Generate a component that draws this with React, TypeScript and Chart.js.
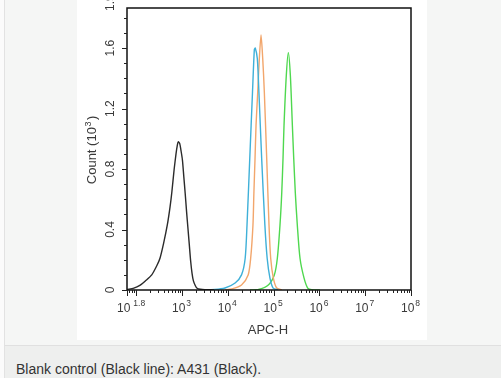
import React, { useEffect, useRef } from "react";
import { Chart, registerables } from "chart.js";

Chart.register(...registerables);

// ---- data (x in log10 APC-H units, y in Count x10^3) ----
const blackLogX = [1.8, 1.95, 2.08, 2.2, 2.34, 2.45, 2.52, 2.6, 2.68, 2.74, 2.78, 2.83, 2.87, 2.9, 2.92, 2.95, 2.98, 3.01, 3.04, 3.07, 3.1, 3.13, 3.16, 3.19, 3.22, 3.25, 3.29, 3.33, 3.4, 3.5, 3.7];
const blackCount = [0.004, 0.012, 0.03, 0.06, 0.1, 0.16, 0.21, 0.31, 0.43, 0.55, 0.65, 0.8, 0.9, 0.96, 0.98, 0.97, 0.92, 0.86, 0.75, 0.64, 0.52, 0.41, 0.3, 0.19, 0.11, 0.06, 0.03, 0.012, 0.005, 0.002, 0.001];

const blueLogX = [3.39, 3.72, 3.94, 4.16, 4.3, 4.38, 4.42, 4.48, 4.54, 4.58, 4.6, 4.645, 4.68, 4.74, 4.81, 4.86, 4.92, 4.99, 5.1];
const blueCount = [0.0, 0.003, 0.013, 0.046, 0.1, 0.21, 0.43, 0.87, 1.31, 1.59, 1.6, 1.53, 1.31, 0.87, 0.43, 0.21, 0.08, 0.013, 0.002];

const orangeLogX = [3.94, 4.09, 4.3, 4.445, 4.5, 4.55, 4.57, 4.595, 4.617, 4.654, 4.689, 4.726, 4.763, 4.798, 4.85, 4.9, 4.937, 4.994, 5.068, 5.18];
const orangeCount = [0.001, 0.007, 0.033, 0.099, 0.21, 0.43, 0.64, 0.87, 1.09, 1.31, 1.53, 1.686, 1.53, 1.31, 0.87, 0.43, 0.21, 0.08, 0.013, 0.002];

const greenLogX = [4.485, 4.667, 4.885, 5.016, 5.082, 5.14, 5.178, 5.206, 5.228, 5.278, 5.322, 5.366, 5.41, 5.44, 5.475, 5.518, 5.577, 5.664, 5.745, 5.833, 6.01];
const greenCount = [0.001, 0.003, 0.033, 0.099, 0.21, 0.43, 0.64, 0.87, 1.09, 1.42, 1.57, 1.42, 1.09, 0.87, 0.64, 0.43, 0.21, 0.08, 0.013, 0.002, 0.0];

const xTickExponents = ["1.8", "3", "4", "5", "6", "7", "8"];
const yTickValues = [0, 0.4, 0.8, 1.2, 1.6, 1.9];
const yTickLabels = ["0", "0.4", "0.8", "1.2", "1.6", "1.9"];

const xTitle = "APC-H";
const yTitle = "Count (10";
const caption = "Blank control (Black line): A431 (Black).";

const X_MIN = Math.pow(10, 1.8);
const X_MAX = 1e8;
const Y_MAX = 1.865;

const FONT = "'Liberation Sans', Arial, sans-serif";
const TXT = "#3a3a3a";

const toPoints = (lx: number[], c: number[]) =>
  lx.map((v, i) => ({ x: Math.pow(10, v), y: c[i] }));

const axisPlugin = {
  id: "flowAxes",
  afterDraw(chart: any) {
    const { ctx, chartArea: a, scales } = chart;
    const xs = scales.x;
    const ys = scales.y;
    ctx.save();
    // frame
    ctx.strokeStyle = "#111";
    ctx.lineWidth = 1.5;
    ctx.strokeRect(a.left, a.top, a.right - a.left, a.bottom - a.top);

    ctx.lineWidth = 1;
    ctx.strokeStyle = "#222";
    // x ticks (major + minor)
    ctx.beginPath();
    for (let d = 1; d <= 8; d++) {
      for (let m = 1; m <= 9; m++) {
        const v = m * Math.pow(10, d);
        if (v < X_MIN - 1e-9 || v > X_MAX + 1e-9) continue;
        const px = Math.round(xs.getPixelForValue(v)) + 0.5;
        const len = m === 1 ? 6 : 3;
        ctx.moveTo(px, a.bottom);
        ctx.lineTo(px, a.bottom + len);
      }
    }
    const lp = Math.round(xs.getPixelForValue(X_MIN)) + 0.5;
    ctx.moveTo(lp, a.bottom);
    ctx.lineTo(lp, a.bottom + 6);
    // y ticks
    for (let k = 0; k <= 18; k++) {
      const v = k / 10;
      if (v > Y_MAX) continue;
      const py = Math.round(ys.getPixelForValue(v)) + 0.5;
      const len = k % 4 === 0 ? 5 : 3;
      ctx.moveTo(a.left, py);
      ctx.lineTo(a.left - len, py);
    }
    ctx.stroke();

    // x tick labels
    ctx.fillStyle = TXT;
    ctx.textBaseline = "alphabetic";
    ctx.textAlign = "left";
    xTickExponents.forEach((e) => {
      const px = xs.getPixelForValue(Math.pow(10, parseFloat(e)));
      ctx.font = `12px ${FONT}`;
      const left = px - 10;
      ctx.fillText("10", left, 312);
      const w = ctx.measureText("10").width;
      ctx.font = `8.5px ${FONT}`;
      ctx.fillText(e, left + w + (e.includes(".") ? 3 : 1), 306);
    });

    // y tick labels (rotated)
    yTickValues.forEach((v, i) => {
      const py = ys.getPixelForValue(v);
      ctx.save();
      ctx.translate(34, py);
      ctx.rotate(-Math.PI / 2);
      ctx.font = `12px ${FONT}`;
      ctx.textAlign = "center";
      ctx.textBaseline = "middle";
      ctx.fillText(yTickLabels[i], 0, 0);
      ctx.restore();
    });

    // x title
    ctx.font = `13px ${FONT}`;
    ctx.textAlign = "center";
    ctx.textBaseline = "alphabetic";
    ctx.fillText(xTitle, 191, 334);

    // y title rotated
    ctx.save();
    ctx.translate(19, 150);
    ctx.rotate(-Math.PI / 2);
    ctx.font = `13px ${FONT}`;
    ctx.textBaseline = "alphabetic";
    const w1 = ctx.measureText(yTitle).width;
    ctx.font = `9px ${FONT}`;
    const w2 = ctx.measureText("3").width;
    ctx.font = `13px ${FONT}`;
    const w3 = ctx.measureText(")").width;
    const total = w1 + w2 + w3 + 2;
    const x0 = -total / 2;
    ctx.textAlign = "left";
    ctx.fillText(yTitle, x0, 0);
    ctx.font = `9px ${FONT}`;
    ctx.fillText("3", x0 + w1 + 0.5, -5);
    ctx.font = `13px ${FONT}`;
    ctx.fillText(")", x0 + w1 + w2 + 2, 0);
    ctx.restore();

    ctx.restore();
  },
};

export default function App() {
  const ref = useRef<HTMLCanvasElement | null>(null);

  useEffect(() => {
    document.body.style.margin = "0";
    if (!ref.current) return;
    const mk = (label: string, lx: number[], c: number[], color: string) => ({
      label,
      data: toPoints(lx, c),
      borderColor: color,
      borderWidth: 1.4,
      pointRadius: 0,
      tension: 0.25,
      fill: false,
    });
    const chart = new Chart(ref.current, {
      type: "line",
      data: {
        datasets: [
          mk("Blank control", blackLogX, blackCount, "#2b2b2b"),
          mk("Sample 1", blueLogX, blueCount, "#3fb0d8"),
          mk("Sample 2", orangeLogX, orangeCount, "#f2a66c"),
          mk("Sample 3", greenLogX, greenCount, "#4fd84f"),
        ],
      },
      options: {
        responsive: false,
        animation: false,
        layout: { padding: { left: 50, right: 16, top: 8, bottom: 50 } },
        plugins: { legend: { display: false }, tooltip: { enabled: false } },
        scales: {
          x: { type: "logarithmic", min: X_MIN, max: X_MAX, display: false },
          y: { type: "linear", min: 0, max: Y_MAX, display: false },
        },
      },
      plugins: [axisPlugin],
    } as any);
    return () => chart.destroy();
  }, []);

  return (
    <div style={{ position: "relative", width: 501, height: 378, background: "#fbfbfb", overflow: "hidden", fontFamily: FONT }}>
      <div style={{ position: "absolute", left: 4, top: 0, width: 497, height: 346, background: "#f5f6f5", borderLeft: "1px solid #e2e2e2", borderBottom: "1px solid #e0e0e0", boxSizing: "border-box" }} />
      <div style={{ position: "absolute", left: 77, top: 0, width: 350, height: 340, background: "#ffffff" }}>
        <canvas ref={ref} width={350} height={340} style={{ display: "block" }} />
      </div>
      <div style={{ position: "absolute", left: 4, top: 346, width: 497, height: 32, background: "#eeefee", borderLeft: "1px solid #e2e2e2", boxSizing: "border-box" }}>
        <div style={{ position: "absolute", left: 11, top: 15, fontSize: 14, color: "#333", whiteSpace: "nowrap", lineHeight: "16px" }}>{caption}</div>
      </div>
    </div>
  );
}
